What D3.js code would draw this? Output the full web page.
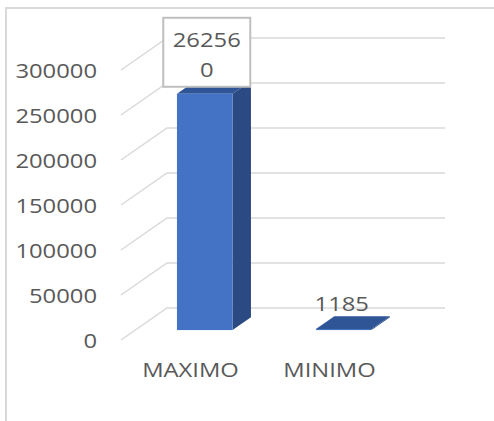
<!DOCTYPE html>
<html>
<head>
<meta charset="utf-8">
<script src="https://cdn.jsdelivr.net/npm/d3@7"></script>
<style>
  html, body { margin: 0; padding: 0; background: #fff; }
  svg { display: block; }
  text { font-family: "Open Sans", "DejaVu Sans", sans-serif; fill: #595959; }
</style>
</head>
<body>
<svg id="chart" width="494" height="421"></svg>
<script>
// ---- data ----
const categories = ["MAXIMO", "MINIMO"];
const values = [262560, 1185];
const valueLabels = [["26256", "0"], ["1185"]];
const yTicks = [0, 50000, 100000, 150000, 200000, 250000, 300000];

// ---- layout ----
const W = 494, H = 421;
const svg = d3.select("#chart");
const DX = 46, DY = -32;          // depth offset of the 3D floor
const d1 = 0.31, d2 = 0.71;       // bar depth extent (fraction of floor depth)
const sx = 1.19;                  // horizontal text stretch
const FS = 20;

const y = d3.scaleLinear().domain([0, 300000]).range([340, 70]);
const x = d3.scaleBand().domain(categories).range([121, 399]).padding(0);
const barW = x.bandwidth() * 0.4;

// chart border
svg.append("rect").attr("x", 6).attr("y", 8).attr("width", W + 50).attr("height", H + 50)
  .attr("fill", "none").attr("stroke", "#d9d9d9").attr("stroke-width", 2);

// gridlines (side wall diagonal + back wall)
const [x0, x1] = x.range();
svg.append("g").selectAll("path").data(yTicks).join("path")
  .attr("d", v => {
    const yf = y(v);
    return `M${x0},${yf} L${x0 + DX},${yf + DY} L${x1 + DX},${yf + DY}`;
  })
  .attr("fill", "none").attr("stroke", "#d9d9d9").attr("stroke-width", 1.5);

// tick labels
svg.append("g").selectAll("text").data(yTicks).join("text")
  .attr("transform", v => `translate(97,${y(v)}) scale(${sx},1)`)
  .attr("text-anchor", "end").attr("dominant-baseline", "central")
  .style("font-size", FS + "px")
  .text(v => v);

// bars
const bars = svg.append("g");
categories.forEach((c, i) => {
  const v = values[i];
  const xl = x(c) + (x.bandwidth() - barW) / 2 + DX * d1;
  const xr = xl + barW;
  const yb = y(0) + DY * d1;
  const yt = y(v) + DY * d1;
  const ddx = DX * (d2 - d1), ddy = DY * (d2 - d1);
  const g = bars.append("g");
  // side face
  g.append("path")
    .attr("d", `M${xr},${yb} L${xr + ddx},${yb + ddy} L${xr + ddx},${yt + ddy} L${xr},${yt} Z`)
    .attr("fill", "#2b4a83");
  // top face
  g.append("path")
    .attr("d", `M${xl},${yt} L${xr},${yt} L${xr + ddx},${yt + ddy} L${xl + ddx},${yt + ddy} Z`)
    .attr("fill", "#2f5597");
  // front face
  g.append("rect").attr("x", xl).attr("y", yt).attr("width", barW).attr("height", Math.max(0, yb - yt))
    .attr("fill", "#4472c4");
});

// value labels
categories.forEach((c, i) => {
  const lines = valueLabels[i];
  const cx = x(c) + x.bandwidth() / 2 + DX * d1;
  const yt = y(values[i]) + DY * d1;
  if (lines.length > 1) {
    // boxed, wrapped label
    const top = yt - 76, h = 69, w = 87;
    svg.append("rect").attr("x", cx - w / 2 + 2).attr("y", top).attr("width", w).attr("height", h)
      .attr("fill", "#fff").attr("stroke", "#bfbfbf").attr("stroke-width", 2);
    lines.forEach((ln, k) => {
      svg.append("text")
        .attr("transform", `translate(${cx + 2},${top + 29 + k * 30}) scale(${sx},1)`)
        .attr("text-anchor", "middle").style("font-size", FS + "px").text(ln);
    });
  } else {
    svg.append("text")
      .attr("transform", `translate(${cx - 2},${yt - 18}) scale(${sx},1)`)
      .attr("text-anchor", "middle").style("font-size", FS + "px").text(lines[0]);
  }
});

// category labels
svg.append("g").selectAll("text").data(categories).join("text")
  .attr("transform", c => `translate(${x(c) + x.bandwidth() / 2},377) scale(${sx},1)`)
  .attr("text-anchor", "middle").style("font-size", FS + "px")
  .text(c => c);
</script>
</body>
</html>
